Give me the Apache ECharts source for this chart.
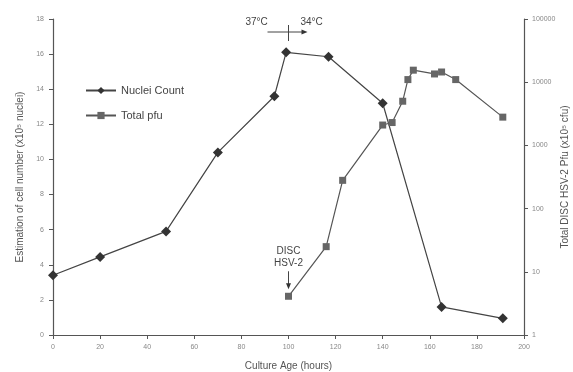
<!DOCTYPE html>
<html>
<head>
<meta charset="utf-8">
<script src="https://cdn.jsdelivr.net/npm/echarts@6/dist/echarts.min.js"></script>
<style>
  html, body { margin: 0; padding: 0; background: #fff; }
  #chart { width: 573px; height: 372px; }
</style>
</head>
<body>
<div id="chart"></div>
<script>
// culture age (hours) / nuclei count (x10^5 nuclei)
var nucleiHours = [0, 20, 48, 70, 94, 99, 117, 140, 165, 191];
var nucleiCount = [3.4, 4.45, 5.9, 10.4, 13.6, 16.1, 15.85, 13.2, 1.6, 0.95];

// culture age (hours) / total pfu (log scale)
var pfuHours = [100, 116, 123, 140, 144, 148.5, 150.7, 153, 162, 165, 171, 191];
var pfuTotal = [4.1, 25, 280, 2100, 2300, 5000, 11000, 15500, 13500, 14500, 11000, 2800];

var rightTicks = [1, 10, 100, 1000, 10000, 100000];

var myChart = echarts.init(document.getElementById("chart"));

var lineColor = "#555";
var labelColor = "#888";

function pairs(xs, ys) {
  var out = [];
  for (var i = 0; i < xs.length; i++) {
    out.push([xs[i], ys[i]]);
  }
  return out;
}

var options = {
  animation: false,
  textStyle: { fontFamily: "Liberation Sans, Arial, sans-serif" },
  grid: { left: 53, right: 49, top: 19, bottom: 37, outerBoundsMode: "none" },
  legend: {
    orient: "vertical",
    left: 80,
    top: 80,
    itemWidth: 30,
    itemHeight: 9,
    itemGap: 14,
    textStyle: { fontSize: 11, color: "#444" },
    data: ["Nuclei Count", "Total pfu"]
  },
  xAxis: {
    type: "value",
    min: 0,
    max: 200,
    interval: 20,
    name: "Culture Age (hours)",
    nameLocation: "middle",
    nameGap: 26,
    nameTextStyle: { fontSize: 10, color: "#555" },
    axisLine: { lineStyle: { color: lineColor, width: 1.2 } },
    axisTick: { length: 4, lineStyle: { color: lineColor } },
    axisLabel: { fontSize: 7, color: labelColor, margin: 9 },
    splitLine: { show: false }
  },
  yAxis: [
    {
      type: "value",
      min: 0,
      max: 18,
      interval: 2,
      name: "Estimation of cell number (x10\u2075 nuclei)",
      nameLocation: "middle",
      nameGap: 28,
      nameTextStyle: { fontSize: 10, color: "#555" },
      axisLine: { show: true, lineStyle: { color: lineColor, width: 1.2 } },
      axisTick: { show: true, length: 4, lineStyle: { color: lineColor } },
      axisLabel: { fontSize: 7, color: labelColor, margin: 9 },
      splitLine: { show: false }
    },
    {
      type: "log",
      logBase: 10,
      min: 1,
      max: 100000,
      position: "right",
      name: "Total DISC HSV-2 Pfu (x10\u2075 cfu)",
      nameLocation: "middle",
      nameGap: 36,
      nameRotate: 90,
      nameMoveOverlap: false,
      nameTextStyle: { fontSize: 10, color: "#555" },
      axisLine: { show: true, lineStyle: { color: lineColor, width: 1.2 } },
      axisTick: { show: true, length: 4, lineStyle: { color: lineColor } },
      axisLabel: {
        fontSize: 7,
        color: labelColor,
        margin: 8,
        formatter: function (v) {
          return rightTicks.indexOf(Math.round(v)) >= 0 ? String(Math.round(v)) : "";
        }
      },
      splitLine: { show: false }
    }
  ],
  series: [
    {
      name: "Nuclei Count",
      type: "line",
      yAxisIndex: 0,
      symbol: "diamond",
      symbolSize: 10,
      itemStyle: { color: "#333" },
      lineStyle: { color: "#444", width: 1.2 },
      data: pairs(nucleiHours, nucleiCount)
    },
    {
      name: "Total pfu",
      type: "line",
      yAxisIndex: 1,
      symbol: "rect",
      symbolSize: 7,
      itemStyle: { color: "#666" },
      lineStyle: { color: "#555", width: 1.2 },
      data: pairs(pfuHours, pfuTotal)
    }
  ]
};

myChart.setOption(options);

// annotations placed by data coordinates
var tempSplit = myChart.convertToPixel({ xAxisIndex: 0, yAxisIndex: 0 }, [100, 18]);
var discPt = myChart.convertToPixel({ xAxisIndex: 0, yAxisIndex: 1 }, [pfuHours[0], pfuTotal[0]]);
var tx = tempSplit[0];
var ty = tempSplit[1];
var dx = discPt[0];
var dy = discPt[1];

myChart.setOption({
  graphic: [
    { type: "text", left: tx - 43, top: ty - 2, style: { text: "37\u00b0C", fontSize: 10, fill: "#444" } },
    { type: "text", left: tx + 12, top: ty - 2, style: { text: "34\u00b0C", fontSize: 10, fill: "#444" } },
    { type: "line", shape: { x1: tx - 21, y1: ty + 13, x2: tx + 15, y2: ty + 13 }, style: { stroke: "#444", lineWidth: 1 } },
    { type: "polygon", shape: { points: [[tx + 19, ty + 13], [tx + 13, ty + 10.5], [tx + 13, ty + 15.5]] }, style: { fill: "#333" } },
    { type: "line", shape: { x1: tx, y1: ty + 6, x2: tx, y2: ty + 22 }, style: { stroke: "#444", lineWidth: 1 } },
    { type: "text", x: dx, y: dy - 50, style: { text: "DISC", fontSize: 10, fill: "#444", align: "center" } },
    { type: "text", x: dx, y: dy - 38, style: { text: "HSV-2", fontSize: 10, fill: "#444", align: "center" } },
    { type: "line", shape: { x1: dx, y1: dy - 25, x2: dx, y2: dy - 12 }, style: { stroke: "#444", lineWidth: 1 } },
    { type: "polygon", shape: { points: [[dx, dy - 7], [dx - 2.5, dy - 13], [dx + 2.5, dy - 13]] }, style: { fill: "#333" } }
  ]
});

window.addEventListener("resize", function () {
  myChart.resize();
});
</script>
</body>
</html>
